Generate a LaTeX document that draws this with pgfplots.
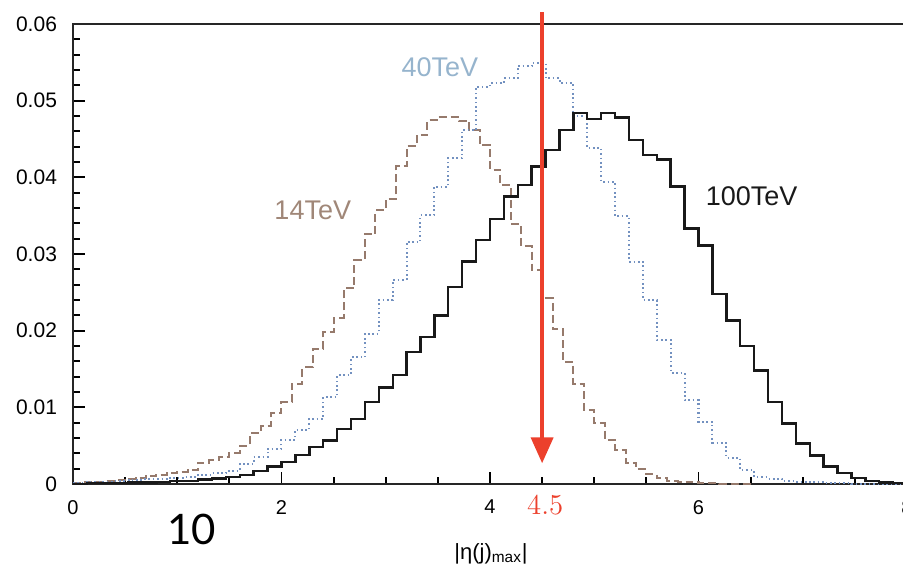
\documentclass[border=0pt]{standalone}
\usepackage{fontspec}
\setmainfont{Liberation Sans}
\newfontfamily\tenfont{Lato}
\usepackage{pgfplots}
\usepackage{pgfplotstable}
\pgfplotsset{compat=1.18}
\usetikzlibrary{arrows.meta}
\definecolor{brownc}{RGB}{150,122,108}
\definecolor{brownlab}{RGB}{160,135,120}
\definecolor{bluec}{RGB}{115,145,192}
\definecolor{bluelab}{RGB}{150,180,205}
\definecolor{redc}{RGB}{236,64,44}

\pgfplotstableread{
x y100 y40
0 0.0000 0.0001
0.1333 0.0001 0.0002
0.2667 0.0001 0.0003
0.4 0.0001 0.0004
0.5333 0.0002 0.0005
0.6667 0.0002 0.0006
0.8 0.0003 0.0006
0.9333 0.0004 0.0008
1.0667 0.0004 0.0009
1.2 0.0006 0.0012
1.3333 0.0007 0.0014
1.4667 0.0009 0.0017
1.6 0.0012 0.0026
1.7333 0.0017 0.0035
1.8667 0.0023 0.0046
2 0.0029 0.0058
2.1333 0.0038 0.0071
2.2667 0.0048 0.0085
2.4 0.0057 0.0113
2.5333 0.0072 0.0142
2.6667 0.0085 0.0165
2.8 0.0107 0.0196
2.9333 0.0126 0.0240
3.0667 0.0142 0.0266
3.2 0.0172 0.0316
3.3333 0.0192 0.0351
3.4667 0.0220 0.0388
3.6 0.0257 0.0425
3.7333 0.0290 0.0462
3.8667 0.0318 0.0518
4 0.0346 0.0523
4.1333 0.0375 0.0529
4.2667 0.0390 0.0545
4.4 0.0414 0.0549
4.5333 0.0436 0.0529
4.6667 0.0462 0.0523
4.8 0.0484 0.0480
4.9333 0.0476 0.0438
5.0667 0.0484 0.0394
5.2 0.0478 0.0349
5.3333 0.0449 0.0290
5.4667 0.0429 0.0240
5.6 0.0423 0.0188
5.7333 0.0388 0.0145
5.8667 0.0333 0.0109
6 0.0311 0.0081
6.1333 0.0248 0.0054
6.2667 0.0213 0.0034
6.4 0.0180 0.0018
6.5333 0.0148 0.0009
6.6667 0.0107 0.0007
6.8 0.0079 0.0004
6.9333 0.0053 0.0003
7.0667 0.0037 0.0002
7.2 0.0023 0.0001
7.3333 0.0014 0.0001
7.4667 0.0008 0.0000
7.6 0.0004 0.0000
7.7333 0.0002 0.0000
7.8667 0.0001 0.0000
8 0.0001 0.0000
}\tabA

\pgfplotstableread{
x y
0 0.0001
0.1 0.0002
0.2 0.0003
0.3 0.0004
0.4 0.0005
0.5 0.0007
0.6 0.0008
0.7 0.0010
0.8 0.0012
0.9 0.0014
1.0 0.0016
1.1 0.0018
1.2 0.0028
1.3 0.0031
1.4 0.0035
1.5 0.0041
1.6 0.0050
1.7 0.0066
1.8 0.0076
1.9 0.0092
2.0 0.0107
2.1 0.0131
2.2 0.0152
2.3 0.0176
2.4 0.0198
2.5 0.0217
2.6 0.0255
2.7 0.0292
2.8 0.0326
2.9 0.0357
3.0 0.0372
3.1 0.0415
3.2 0.0441
3.3 0.0455
3.4 0.0475
3.5 0.0479
3.6 0.0479
3.7 0.0474
3.8 0.0462
3.9 0.0442
4.0 0.0410
4.1 0.0390
4.2 0.0339
4.3 0.0310
4.4 0.0279
4.5 0.0242
4.6 0.0202
4.7 0.0159
4.8 0.0131
4.9 0.0096
5.0 0.0079
5.1 0.0058
5.2 0.0045
5.3 0.0028
5.4 0.0019
5.5 0.0013
5.6 0.0008
5.7 0.0004
5.8 0.0003
5.9 0.0002
6.0 0.0001
6.1 0.0001
6.2 0.0000
6.5 0.0000
}\tabC

\begin{document}
\begin{tikzpicture}
\begin{axis}[
  at={(0,0)}, anchor=south west,
  scale only axis, width=417pt, height=230pt,
  xmin=0, xmax=8, ymin=0, ymax=0.06,
  clip=false,
  axis line style={line width=1.1pt, black!85},
  xtick={0,2,4,6,8}, minor x tick num=3,
  ytick={0,0.01,0.02,0.03,0.04,0.05,0.06}, minor y tick num=4,
  tick align=inside, xtick pos=bottom, ytick pos=left,
  major tick length=6pt, minor tick length=3.5pt,
  every tick/.style={black, line width=0.9pt},
  scaled y ticks=false,
  /pgf/number format/fixed, /pgf/number format/precision=2,
  /pgf/number format/assume math mode=true,
  yticklabel style={font=\fontsize{10.5}{12}\selectfont, xshift=-4.5pt},
  xticklabel style={font=\fontsize{10}{12}\selectfont, yshift=-4.5pt},
]
\addplot[const plot, color=brownc, line width=1pt, dash pattern=on 4pt off 2pt] table[x=x,y=y] {\tabC};
\addplot[const plot, color=bluec, line width=1pt, dash pattern=on 0.8pt off 1.4pt] table[x=x,y=y40] {\tabA};
\addplot[const plot, color=black!90, line width=1.2pt] table[x=x,y=y100] {\tabA};
\addplot[color=redc, line width=2pt, -{Triangle[length=13pt,width=11pt]}] coordinates {(4.5,0.0615) (4.5,0.0027)};

\node[color=bluelab, font=\fontsize{13.5}{16}\selectfont] at (axis cs:3.52,0.0543) {40TeV};
\node[color=brownlab, font=\fontsize{13.5}{16}\selectfont] at (axis cs:2.30,0.0357) {14TeV};
\node[color=black!90, font=\fontsize{13.5}{16}\selectfont] at (axis cs:6.51,0.0376) {100TeV};
\node[color=redc, font=\fontsize{15}{18}\selectfont, yshift=-10.5pt] at (axis cs:4.53,0) {$4.5$};
\node[font=\tenfont\fontsize{21}{24}\selectfont, yshift=-22.5pt] at (axis cs:1.14,0) {10};
\node[font=\fontsize{11}{13}\selectfont, yshift=-35pt] at (axis cs:4.01,0) {|η(j)\textsubscript{max}|};
\end{axis}
\pgfresetboundingbox
\useasboundingbox (-36.5pt,-44pt) rectangle (415pt,242pt);
\end{tikzpicture}
\end{document}
